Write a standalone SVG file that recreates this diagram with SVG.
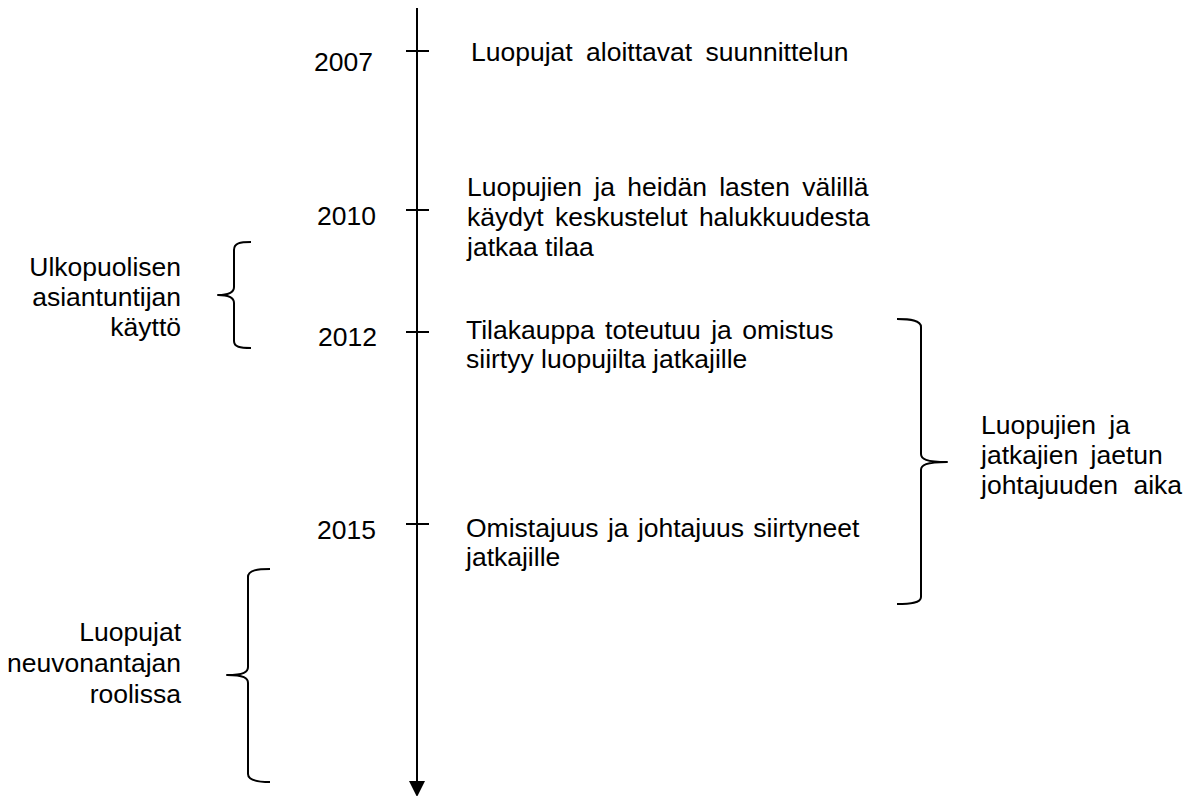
<svg xmlns="http://www.w3.org/2000/svg" width="1194" height="796" viewBox="0 0 1194 796">
<style>
text{font-family:"Liberation Sans",Arial,sans-serif;font-size:26.5px;fill:#000}
.line{stroke:#000;stroke-width:2;fill:none}
.br{stroke:#000;stroke-width:2;fill:none;stroke-linejoin:round}
.r{text-anchor:end}
</style>
<rect width="1194" height="796" fill="#fff"/>
<g id="connectors">
<line class="line" x1="417" y1="8" x2="417" y2="784"/>
<polygon points="409,781 425,781 417,797" fill="#000"/>
<line class="line" x1="406" y1="51" x2="429" y2="51"/>
<line class="line" x1="406" y1="210" x2="429" y2="210"/>
<line class="line" x1="406" y1="332" x2="429" y2="332"/>
<line class="line" x1="406" y1="524" x2="429" y2="524"/>
</g>
<g id="y2007"><text class="r" x="373" y="71">2007</text></g>
<g id="y2010"><text class="r" x="376" y="225">2010</text></g>
<g id="y2012"><text class="r" x="377" y="346">2012</text></g>
<g id="y2015"><text class="r" x="376" y="539">2015</text></g>
<g id="e2007"><text x="471" y="61" word-spacing="6">Luopujat aloittavat suunnittelun</text></g>
<g id="e2010">
<text x="467" y="196" word-spacing="5">Luopujien ja heidän lasten välillä</text>
<text x="467" y="226" word-spacing="4">käydyt keskustelut halukkuudesta</text>
<text x="467" y="256">jatkaa tilaa</text>
</g>
<g id="e2012">
<text x="466" y="339" word-spacing="3">Tilakauppa toteutuu ja omistus</text>
<text x="466" y="368">siirtyy luopujilta jatkajille</text>
</g>
<g id="e2015">
<text x="466" y="537" word-spacing="2">Omistajuus ja johtajuus siirtyneet</text>
<text x="466" y="566">jatkajille</text>
</g>
<g id="ulkopuolinen">
<path class="br" d="M251,242 C240,242 234,243 234,250 L234,287 C234,292 230,295 218,295 C230,295 234,298 234,303 L234,341 C234,347 240,348 251,348"/>
<text class="r" x="181" y="276">Ulkopuolisen</text>
<text class="r" x="181" y="306">asiantuntijan</text>
<text class="r" x="181" y="336">käyttö</text>
</g>
<g id="neuvonantaja">
<path class="br" d="M270,569 C258,569 248,570 248,577 L248,667 C248,672 244,675 227,675 C244,675 248,678 248,683 L248,774 C248,780 258,782 270,782"/>
<text class="r" x="181" y="641">Luopujat</text>
<text class="r" x="181" y="672">neuvonantajan</text>
<text class="r" x="181" y="703">roolissa</text>
</g>
<g id="jaettu">
<path class="br" d="M897,319 C910,319 921,320 921,327 L921,454 C921,459 926,462 947,462 C926,462 921,465 921,470 L921,597 C921,603 910,604 897,604"/>
<text x="981" y="434" word-spacing="6">Luopujien ja</text>
<text x="981" y="464" word-spacing="5">jatkajien jaetun</text>
<text x="981" y="494" word-spacing="8">johtajuuden aika</text>
</g>
</svg>
